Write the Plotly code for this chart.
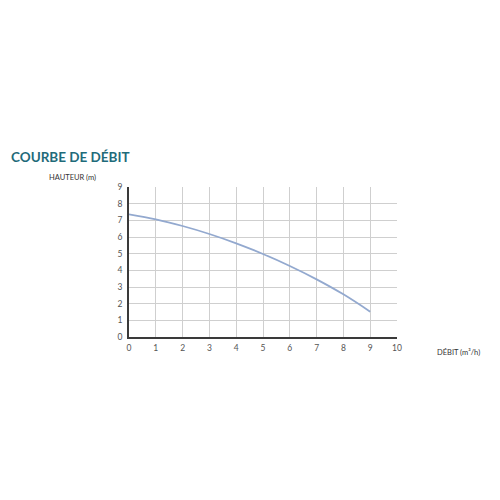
import plotly.graph_objects as go

# Courbe de débit : hauteur (m) en fonction du débit (m³/h)
debit = [0, 1, 2, 3, 4, 5, 6, 7, 8, 9]
hauteur = [7.36, 7.06, 6.66, 6.18, 5.62, 4.98, 4.26, 3.46, 2.56, 1.52]
ticks_x = list(range(0, 11))
ticks_y = list(range(0, 10))

# la page ajoute 8 px de marge autour du graphique
L, R, T, B = 121, 111, 179, 171

fig = go.Figure()
fig.add_trace(go.Scatter(
    x=debit, y=hauteur,
    mode='lines',
    line=dict(color='#93a9cf', width=1.8, shape='spline'),
    hoverinfo='skip',
))

axe = dict(
    showgrid=True, gridcolor='#cfcfcf', gridwidth=1,
    showline=True, linecolor='#3a3a3a', linewidth=1.5,
    zeroline=False, ticks='',
    tickfont=dict(family='Lato', size=8.5, color='#555555'),
)

fig.update_layout(
    width=500, height=500,
    plot_bgcolor='white', paper_bgcolor='white',
    showlegend=False,
    margin=dict(l=L, r=R, t=T, b=B),
    xaxis=dict(axe, range=[0, 10], tickvals=ticks_x, ticklabelstandoff=2),
    yaxis=dict(axe, range=[0, 9], tickvals=ticks_y, ticklabelstandoff=3),
)

# textes placés en pixels de la page
textes = [
    ('<b>COURBE DE DÉBIT</b>', 9, 157, 'left', dict(family='Lato', size=13.5, color='#1f6b7a', weight=900)),
    ('HAUTEUR (m)', 72, 177, 'center', dict(family='Lato', size=7.5, color='#333333')),
    ('DÉBIT (m³/h)', 458, 352, 'center', dict(family='Lato', size=7.5, color='#333333')),
]
pw = 500 - L - R
ph = 500 - T - B
for txt, px, py, ancre, police in textes:
    fig.add_annotation(
        text=txt, showarrow=False,
        x=(px - 8 - L) / pw, y=(500 - B - (py - 8)) / ph,
        xref='paper', yref='paper', xanchor=ancre, yanchor='middle',
        font=police,
    )

fig.write_html("out.html")
